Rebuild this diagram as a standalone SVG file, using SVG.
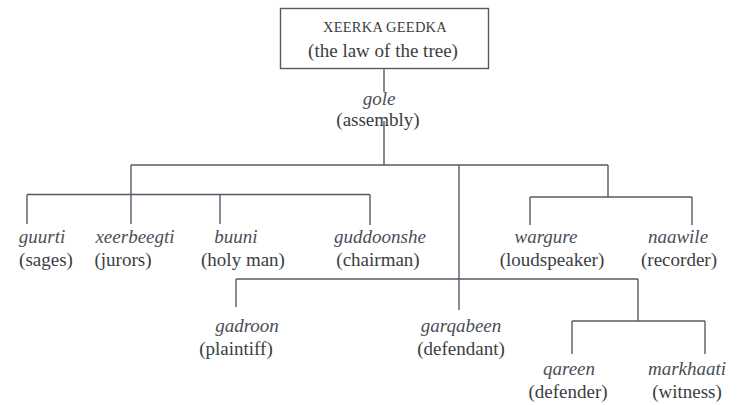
<svg xmlns="http://www.w3.org/2000/svg" width="738" height="405" viewBox="0 0 738 405">
  <style>
    text { font-family: 'Liberation Serif', 'Times New Roman', 'DejaVu Serif', serif; font-size: 19px; fill: #3b3d42; text-anchor: middle; }
    .it { font-style: italic; fill: #4a4e58; }
    .caps { font-size: 14.5px; letter-spacing: 0.2px; }
    .wire { fill: none; stroke: #555a66; stroke-width: 1.4; }
  </style>
  <rect width="738" height="405" fill="#ffffff"/>

  <!-- connectors -->
  <g id="connectors" class="wire">
    <!-- root to assembly -->
    <path d="M384 69 V92"/>
    <path d="M384 121 V165"/>
    <!-- main branch bar -->
    <path d="M131 165 H608"/>
    <!-- officials (left) -->
    <path d="M131 165 V224"/>
    <path d="M27 194.5 H370"/>
    <path d="M27 194.5 V224"/>
    <path d="M220 194.5 V224"/>
    <path d="M370 194.5 V225"/>
    <!-- speaker / recorder -->
    <path d="M608 165 V197"/>
    <path d="M530 197 H692"/>
    <path d="M530 197 V225"/>
    <path d="M692 197 V225"/>
    <!-- parties -->
    <path d="M459 165 V310"/>
    <path d="M236 279 H638"/>
    <path d="M236 279 V307"/>
    <path d="M638 279 V321"/>
    <path d="M572 321 H705"/>
    <path d="M572 321 V354"/>
    <path d="M705 321 V354"/>
  </g>

  <g id="root" font-family="Liberation Serif, serif">
    <rect x="280.5" y="8.5" width="208" height="60" fill="#ffffff" stroke="#555a66" stroke-width="1.4"/>
    <text class="caps" x="385" y="32">XEERKA GEEDKA</text>
    <text x="383" y="57">(the law of the tree)</text>
  </g>

  <g id="gole">
    <text class="it" x="379" y="105">gole</text>
    <text x="378" y="126">(assembly)</text>
  </g>

  <g id="guurti">
    <text class="it" x="42" y="243">guurti</text>
    <text x="46" y="266">(sages)</text>
  </g>

  <g id="xeerbeegti">
    <text class="it" x="135" y="243">xeerbeegti</text>
    <text x="123" y="266">(jurors)</text>
  </g>

  <g id="buuni">
    <text class="it" x="236" y="243">buuni</text>
    <text x="243" y="266">(holy man)</text>
  </g>

  <g id="guddoonshe">
    <text class="it" x="380" y="243">guddoonshe</text>
    <text x="378" y="266">(chairman)</text>
  </g>

  <g id="wargure">
    <text class="it" x="546" y="243">wargure</text>
    <text x="552" y="266">(loudspeaker)</text>
  </g>

  <g id="naawile">
    <text class="it" x="678" y="243">naawile</text>
    <text x="679" y="266">(recorder)</text>
  </g>

  <g id="gadroon">
    <text class="it" x="247" y="332">gadroon</text>
    <text x="236" y="355">(plaintiff)</text>
  </g>

  <g id="garqabeen">
    <text class="it" x="461" y="332">garqabeen</text>
    <text x="461" y="355">(defendant)</text>
  </g>

  <g id="qareen">
    <text class="it" x="569" y="375">qareen</text>
    <text x="568" y="398">(defender)</text>
  </g>

  <g id="markhaati">
    <text class="it" x="687" y="375">markhaati</text>
    <text x="687" y="398">(witness)</text>
  </g>
</svg>
